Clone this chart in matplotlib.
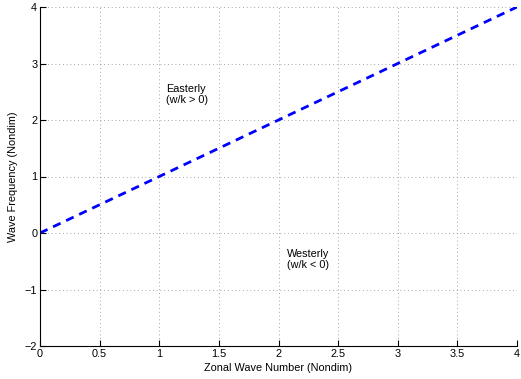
import matplotlib
matplotlib.use("Agg")
import matplotlib.pyplot as plt

# dispersion line: frequency vs zonal wavenumber
k = [0, 4]
w = [0, 4]

xticks = [0, 0.5, 1, 1.5, 2, 2.5, 3, 3.5, 4]
yticks = [-2, -1, 0, 1, 2, 3, 4]

plt.rcParams['font.family'] = ['Liberation Sans', 'DejaVu Sans']
plt.rcParams['font.size'] = 7.8
plt.rcParams['axes.unicode_minus'] = True

fig = plt.figure(figsize=(5.21, 3.79), dpi=100)
ax = fig.add_axes([40 / 521, 33 / 379, 477 / 521, 339 / 379])

ax.plot(k, w, linestyle='--', color='#0000ff', linewidth=2, dashes=(3, 2.2))

ax.set_xlim(0, 4)
ax.set_ylim(-2, 4)
ax.set_xticks(xticks)
ax.set_xticklabels([f"{t:g}" for t in xticks])
ax.set_yticks(yticks)
ax.set_yticklabels([f"{t:g}".replace('-', '\u2212') for t in yticks])
ax.grid(True, linestyle=(0, (1, 3.5)), color='#888888', linewidth=0.6)
ax.tick_params(direction='in', length=4, width=0.8, pad=2)

for side in ['top', 'right']:
    ax.spines[side].set_visible(False)
for side in ['left', 'bottom']:
    ax.spines[side].set_linewidth(0.8)

ax.text(1.06, 2.45, "Easterly\n(w/k > 0)", va='center', ha='left',
        multialignment='left', linespacing=1.2)
ax.text(2.07, -0.47, "Westerly\n(w/k < 0)", va='center', ha='left',
        multialignment='left', linespacing=1.2)

ax.set_xlabel("Zonal Wave Number (Nondim)", labelpad=3)
ax.set_ylabel("Wave Frequency (Nondim)", labelpad=5)

fig.savefig("out.png", dpi=100)
